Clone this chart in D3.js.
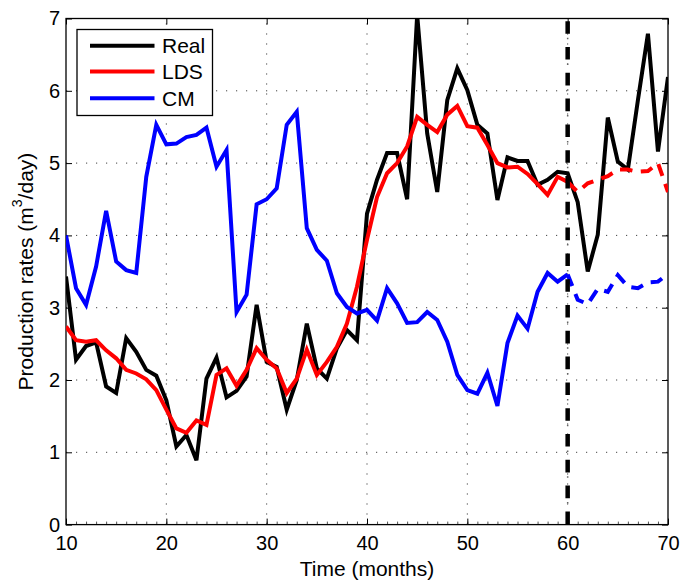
<!DOCTYPE html>
<html>
<head>
<meta charset="utf-8">
<script src="https://cdn.jsdelivr.net/npm/d3@7"></script>
<style>
  body { margin: 0; background: #fff; }
  svg { display: block; font-family: "Liberation Sans", Arial, Helvetica, sans-serif; }
</style>
</head>
<body>
<svg id="chart" width="683" height="584"></svg>
<script>
// Monthly production rates: observed values and two model fits / forecasts
const months = [10, 11, 12, 13, 14, 15, 16, 17, 18, 19,
                20, 21, 22, 23, 24, 25, 26, 27, 28, 29,
                30, 31, 32, 33, 34, 35, 36, 37, 38, 39,
                40, 41, 42, 43, 44, 45, 46, 47, 48, 49,
                50, 51, 52, 53, 54, 55, 56, 57, 58, 59,
                60, 61, 62, 63, 64, 65, 66, 67, 68, 69, 70];

const realValues = [3.43, 2.28, 2.47, 2.52, 1.91, 1.82, 2.58, 2.39, 2.14, 2.06,
                    1.72, 1.08, 1.24, 0.89, 2.02, 2.31, 1.76, 1.85, 2.05, 3.04,
                    2.25, 2.18, 1.59, 2.00, 2.78, 2.16, 2.02, 2.44, 2.69, 2.55,
                    4.30, 4.77, 5.14, 5.14, 4.50, 7.05, 5.41, 4.60, 5.87, 6.31,
                    6.01, 5.53, 5.41, 4.49, 5.08, 5.03, 5.03, 4.70, 4.77, 4.88,
                    4.86, 4.46, 3.50, 4.01, 5.63, 5.02, 4.91, 5.87, 6.79, 5.16, 6.19];

const ldsValues = [2.74, 2.55, 2.53, 2.55, 2.41, 2.30, 2.14, 2.09, 2.01, 1.86,
                   1.59, 1.33, 1.27, 1.44, 1.38, 2.07, 2.16, 1.92, 2.14, 2.44,
                   2.28, 2.16, 1.82, 2.02, 2.42, 2.07, 2.25, 2.46, 2.78, 3.29,
                   3.94, 4.53, 4.86, 5.00, 5.23, 5.64, 5.53, 5.43, 5.67, 5.79,
                   5.51, 5.49, 5.25, 5.00, 4.94, 4.95, 4.85, 4.71, 4.56, 4.81,
                   4.74, 4.60, 4.72, 4.77, 4.82, 4.91, 4.91, 4.88, 4.89, 5.00, 4.60];

const cmValues = [4.00, 3.27, 3.04, 3.57, 4.34, 3.64, 3.52, 3.48, 4.81, 5.53,
                  5.26, 5.27, 5.36, 5.39, 5.49, 4.95, 5.18, 2.94, 3.18, 4.43,
                  4.50, 4.65, 5.53, 5.71, 4.10, 3.80, 3.65, 3.20, 3.01, 2.92,
                  2.97, 2.82, 3.27, 3.06, 2.79, 2.80, 2.94, 2.83, 2.53, 2.07,
                  1.86, 1.81, 2.10, 1.64, 2.51, 2.89, 2.71, 3.22, 3.48, 3.36,
                  3.46, 3.11, 3.05, 3.26, 3.22, 3.45, 3.29, 3.27, 3.35, 3.36, 3.47];

const forecastStart = 60;              // fits to the left, forecasts to the right
const xTickValues = [10, 20, 30, 40, 50, 60, 70];
const yTickValues = [0, 1, 2, 3, 4, 5, 6, 7];
const seriesNames = ["Real", "LDS", "CM"];
const seriesColors = ["#000000", "#ff0000", "#0000ff"];

const svg = d3.select("#chart");
const plot = { left: 66, right: 668, top: 18.5, bottom: 524.6 };
const FONT = '"Liberation Sans", Arial, Helvetica, sans-serif';

const x = d3.scaleLinear().domain([10, 70]).range([plot.left, plot.right]);
const y = d3.scaleLinear().domain([0, 7]).range([plot.bottom, plot.top]);

svg.append("rect").attr("width", 683).attr("height", 584).attr("fill", "#fff");

svg.append("defs").append("clipPath").attr("id", "plot-clip")
  .append("rect")
  .attr("x", plot.left).attr("y", plot.top)
  .attr("width", plot.right - plot.left).attr("height", plot.bottom - plot.top);

// dotted grid
const grid = svg.append("g").attr("stroke", "#444").attr("stroke-width", 1)
  .attr("stroke-dasharray", "1.2,8.8");
grid.selectAll("line.gx")
  .data(xTickValues.filter(d => d > 10 && d < 70))
  .join("line").attr("class", "gx")
  .attr("x1", d => x(d)).attr("x2", d => x(d))
  .attr("y1", plot.bottom).attr("y2", plot.top);
grid.selectAll("line.gy")
  .data(yTickValues.filter(d => d > 0 && d < 7))
  .join("line").attr("class", "gy")
  .attr("x1", plot.left).attr("x2", plot.right)
  .attr("y1", d => y(d)).attr("y2", d => y(d));

// axes (inward ticks on all four sides, minor month ticks along the bottom)
function styleAxis(g) {
  g.select(".domain").remove();
  g.attr("font-family", FONT).attr("font-size", 20);
  g.selectAll(".tick line").attr("stroke", "#000").attr("stroke-width", 1);
  g.selectAll(".tick text").attr("fill", "#000");
}

svg.append("g")
  .attr("transform", `translate(0,${plot.bottom})`)
  .call(d3.axisBottom(x).tickValues(months).tickSize(-3).tickFormat(""))
  .call(styleAxis)
  .selectAll(".tick line").attr("stroke", "#555");

svg.append("g")
  .attr("transform", `translate(0,${plot.bottom})`)
  .call(d3.axisBottom(x).tickValues(xTickValues).tickSize(-6).tickPadding(11)
    .tickFormat(d3.format("d")))
  .call(styleAxis);

svg.append("g")
  .attr("transform", `translate(0,${plot.top})`)
  .call(d3.axisTop(x).tickValues(xTickValues).tickSize(-6).tickFormat(""))
  .call(styleAxis);

svg.append("g")
  .attr("transform", `translate(${plot.left},0)`)
  .call(d3.axisLeft(y).tickValues(yTickValues).tickSize(-6).tickPadding(6)
    .tickFormat(d3.format("d")))
  .call(styleAxis);

svg.append("g")
  .attr("transform", `translate(${plot.right},0)`)
  .call(d3.axisRight(y).tickValues(yTickValues).tickSize(-6).tickFormat(""))
  .call(styleAxis);

svg.append("rect")
  .attr("x", plot.left).attr("y", plot.top)
  .attr("width", plot.right - plot.left).attr("height", plot.bottom - plot.top)
  .attr("fill", "none").attr("stroke", "#000").attr("stroke-width", 1.3);

// series
const line = d3.line().x(d => x(d.m)).y(d => y(d.v));
const toPoints = vals => months.map((m, i) => ({ m, v: vals[i] }));
const lines = svg.append("g").attr("clip-path", "url(#plot-clip)")
  .attr("fill", "none").attr("stroke-width", 4);

const allSeries = [realValues, ldsValues, cmValues];
allSeries.forEach((vals, k) => {
  const pts = toPoints(vals);
  if (k === 0) {
    lines.append("path").datum(pts).attr("d", line).attr("stroke", seriesColors[k]);
    return;
  }
  lines.append("path").datum(pts.filter(p => p.m <= forecastStart))
    .attr("d", line).attr("stroke", seriesColors[k]);
  lines.append("path").datum(pts.filter(p => p.m >= forecastStart))
    .attr("d", line).attr("stroke", seriesColors[k])
    .attr("stroke-dasharray", "12.5,8.5");
});

// forecast boundary (dash-dot)
const xf = x(forecastStart);
svg.append("line")
  .attr("x1", xf).attr("x2", xf).attr("y1", plot.top).attr("y2", plot.bottom)
  .attr("stroke", "#000").attr("stroke-width", 4.5)
  .attr("stroke-dasharray", "12.6,13.2").attr("stroke-dashoffset", 23.1);
svg.append("line")
  .attr("x1", xf).attr("x2", xf).attr("y1", plot.top).attr("y2", plot.bottom)
  .attr("stroke", "#666").attr("stroke-width", 1.5)
  .attr("stroke-dasharray", "1.5,24.3").attr("stroke-dashoffset", 6.6);

// legend
const legend = svg.append("g");
legend.append("rect")
  .attr("x", 77).attr("y", 29.5).attr("width", 135.5).attr("height", 86)
  .attr("fill", "#fff").attr("stroke", "#000").attr("stroke-width", 1.3);
const legendRows = [45.7, 71.5, 98.3];
seriesNames.forEach((name, k) => {
  legend.append("line")
    .attr("x1", 90).attr("x2", 154.5)
    .attr("y1", legendRows[k]).attr("y2", legendRows[k])
    .attr("stroke", seriesColors[k]).attr("stroke-width", 4);
  legend.append("text")
    .attr("x", 162).attr("y", legendRows[k] + 7.6)
    .attr("font-family", FONT).attr("font-size", 21).attr("fill", "#000")
    .text(name);
});

// axis titles
svg.append("text")
  .attr("x", (plot.left + plot.right) / 2).attr("y", 576)
  .attr("text-anchor", "middle").attr("font-family", FONT).attr("font-size", 21)
  .text("Time (months)");

const yTitle = svg.append("text")
  .attr("transform", `translate(33.3,${(plot.top + plot.bottom) / 2}) rotate(-90)`)
  .attr("text-anchor", "middle").attr("font-family", FONT).attr("font-size", 21);
yTitle.append("tspan").text("Production rates (m");
yTitle.append("tspan").attr("font-size", 14).attr("dy", -11).text("3");
yTitle.append("tspan").attr("dy", 11).text("/day)");
</script>
</body>
</html>
